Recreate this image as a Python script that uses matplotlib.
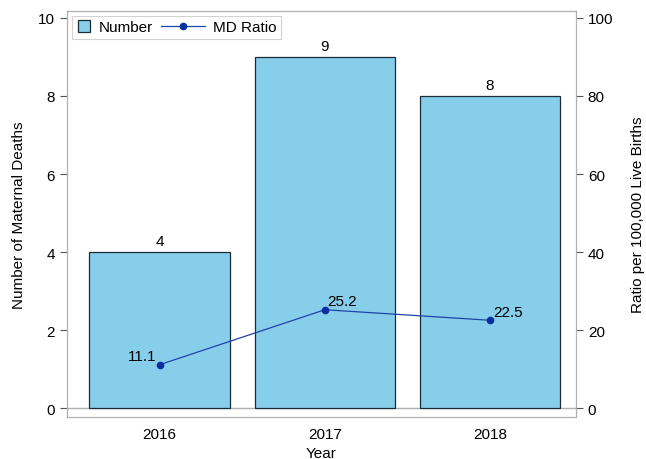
import matplotlib.pyplot as plt
import numpy as np
from matplotlib.patches import Rectangle
from matplotlib.lines import Line2D
from matplotlib.legend_handler import HandlerPatch, HandlerLine2D

plt.rcParams['font.family'] = ['Liberation Sans', 'DejaVu Sans']
plt.rcParams['font.size'] = 11

years = ['2016', '2017', '2018']
deaths = [4, 9, 8]
ratio = [11.1, 25.2, 22.5]

x = np.arange(len(years))

fig = plt.figure(figsize=(6.46, 4.60), dpi=100)
ax = fig.add_axes([0.1037, 0.0913, 0.7879, 0.8827])
ax2 = ax.twinx()

bar_color = '#87CEEB'
edge_color = '#1c2b38'
line_color = '#1f44a8'
marker_color = '#0a2f9e'

ax.bar(x, deaths, width=0.85, color=bar_color, edgecolor=edge_color, linewidth=0.9, zorder=2)
for xi, d in zip(x, deaths):
    ax.text(xi, d + 0.1, str(d), ha='center', va='bottom')
ax.axhline(0, color='#b0b0b0', linewidth=1, zorder=1)

line, = ax2.plot(x, ratio, color=line_color, linewidth=0.9, marker='o', markersize=4.5,
                 markerfacecolor=marker_color, markeredgecolor=marker_color, label='MD Ratio')
offsets = [(-2, 1), (2, 1), (2, 1)]
aligns = ['right', 'left', 'left']
for xi, r, off, al in zip(x, ratio, offsets, aligns):
    ax2.annotate(f'{r}', (xi, r), xytext=off, textcoords='offset points', ha=al, va='bottom')

ax.set_xlim(-0.56, 2.52)
ax.set_ylim(-0.23, 10.18)
ax2.set_ylim(-2.3, 101.8)
ax.set_yticks([0, 2, 4, 6, 8, 10])
ax2.set_yticks([0, 20, 40, 60, 80, 100])
ax.set_xticks(x)
ax.set_xticklabels(years)

ax.set_ylabel('Number of Maternal Deaths', labelpad=9)
ax2.set_ylabel('Ratio per 100,000 Live Births', labelpad=13)
ax.set_xlabel('Year', labelpad=4)

for a in (ax, ax2):
    for s in a.spines.values():
        s.set_color('#b0b0b0')
    a.tick_params(colors='#555555', labelcolor='black', length=5)
ax.tick_params(axis='x', length=0, pad=7)


class SquareHandler(HandlerPatch):
    def create_artists(self, legend, orig_handle, xdescent, ydescent, width, height, fontsize, trans):
        s = min(width, height * 1.1)
        p = Rectangle((-xdescent + (width - s) / 2, -ydescent + (height - s) / 2), s, s,
                      facecolor=bar_color, edgecolor=edge_color, linewidth=0.9, transform=trans)
        return [p]


class LongLineHandler(HandlerLine2D):
    def create_artists(self, legend, orig_handle, xdescent, ydescent, width, height, fontsize, trans):
        ext = fontsize * 1.9
        x0 = -xdescent - ext
        x1 = -xdescent + width
        y = -ydescent + height / 2
        ln = Line2D([x0, x1], [y, y], color=line_color, linewidth=0.9, transform=trans)
        mk = Line2D([(x0 + x1) / 2], [y], marker='o', markersize=4.5, linestyle='none',
                    markerfacecolor=marker_color, markeredgecolor=marker_color, transform=trans)
        return [ln, mk]


box = Rectangle((0, 0), 1, 1, facecolor=bar_color, edgecolor=edge_color)
leg = ax2.legend(handles=[box, line], labels=['Number', 'MD Ratio'], loc='upper left', ncol=2,
                 frameon=True, fancybox=False, edgecolor='#c8c8c8', borderpad=0.3,
                 handlelength=1.0, columnspacing=2.4, handletextpad=0.5, borderaxespad=0.3,
                 handler_map={Rectangle: SquareHandler(), line: LongLineHandler()})
leg.get_frame().set_linewidth(0.8)

ax2.set_zorder(ax.get_zorder() + 1)
ax2.patch.set_visible(False)

fig.savefig('out.png', dpi=100)
